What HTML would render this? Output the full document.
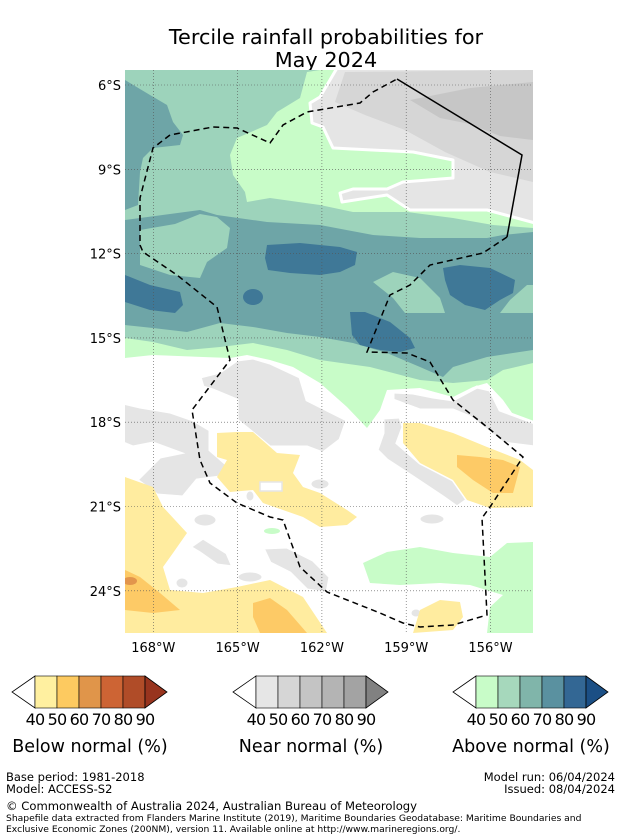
<!DOCTYPE html>
<html><head><meta charset="utf-8"><style>
body{margin:0;background:#fff;width:621px;height:839px;overflow:hidden;font-family:"DejaVu Sans","Liberation Sans",sans-serif;}
svg{position:absolute;left:0;top:0}
</style></head><body>
<svg id="chart" width="621" height="839" viewBox="0 0 621 839">
<text x="326" y="44" font-size="20.8" text-anchor="middle">Tercile rainfall probabilities for</text>
<text x="326" y="67" font-size="20.8" text-anchor="middle">May 2024</text>
<defs><clipPath id="mc"><rect x="125" y="70" width="408" height="563"/></clipPath></defs>
<g clip-path="url(#mc)">
<rect x="125" y="70" width="408" height="563" fill="#fff"/>
<polygon fill="#c8fcc8" points="125,70 533,70 533,425 517,420 503,400 487,383 473,387 453,397 420,388 387,390 380,410 367,428 347,407 320,383 293,367 270,360 247,355 230,358 203,357 153,355 125,358"/>
<polygon fill="#9dd3bb" points="125,70 320,70 307,72 300,98 277,112 267,125 237,138 230,155 233,175 245,192 247,202 270,198 320,205 353,212 407,212 453,218 493,225 533,228 533,363 503,370 487,380 453,383 420,380 370,367 320,360 287,350 253,343 220,347 187,350 153,342 125,338"/>
<polygon fill="#6ea5a7" points="125,80 150,95 167,105 173,122 183,135 180,145 153,148 143,158 140,172 138,205 125,210"/>
<polygon fill="#6ea5a7" points="125,220 200,210 217,215 267,222 320,225 373,235 420,238 487,238 503,235 533,232 533,350 487,357 453,367 443,377 420,367 387,353 353,343 320,337 287,333 253,327 220,323 187,332 153,328 125,325"/>
<polygon fill="#9dd3bb" points="140,230 175,224 200,214 217,217 230,228 227,248 207,262 200,278 170,275 140,265"/>
<polygon fill="#9dd3bb" points="373,282 393,272 420,278 440,298 445,313 405,313 393,298"/>
<polygon fill="#9dd3bb" points="500,313 510,300 527,285 533,285 533,313"/>
<polygon fill="#3f7897" points="267,245 300,243 340,247 357,252 355,265 340,272 320,275 290,273 268,270 265,258"/>
<ellipse fill="#3f7897" cx="253" cy="297" rx="10" ry="8"/>
<polygon fill="#3f7897" points="125,275 150,285 180,292 183,305 175,313 150,310 125,302"/>
<polygon fill="#3f7897" points="443,268 460,265 490,268 515,280 513,293 500,300 485,310 465,305 450,295 445,280"/>
<polygon fill="#3f7897" points="350,312 365,312 390,322 410,338 415,348 400,352 380,350 360,345 352,335"/>
<g stroke="#fff" stroke-width="3" stroke-linejoin="round">
<polygon fill="#e5e5e5" points="337,68 320,97 310,103 312,123 323,127 333,148 413,152 453,160 453,178 403,182 387,189 353,189 340,193 342,202 387,195 410,210 487,210 535,223 535,68"/>
</g>
<polygon fill="#d6d6d6" points="345,72 533,70 533,182 490,172 445,152 405,130 365,115 335,102"/>
<polygon fill="#c6c6c6" points="410,100 470,88 533,82 533,140 500,136 470,124 440,118"/>
<polygon fill="#c8fcc8" points="363,563 387,552 420,547 453,553 490,557 507,543 533,542 533,633 487,633 490,607 503,595 470,585 440,583 400,585 370,583"/>
<ellipse fill="#c8fcc8" cx="272" cy="531" rx="8" ry="3"/>
<g fill="#e5e5e5" stroke="#fff" stroke-width="3">
<polygon points="200,377 220,372 237,360 253,358 270,363 300,377 307,400 333,413 347,420 340,440 323,453 307,447 270,447 253,433 237,420 237,400 213,390 203,387"/>
<polygon points="123,403 140,407 170,412 193,420 210,430 210,450 233,470 220,477 197,480 183,497 157,495 137,480 160,457 180,453 153,443 133,447 123,443"/>
<polygon points="393,392 413,393 433,397 453,400 477,387 490,390 500,410 535,423 535,447 503,443 470,417 453,410 420,410 393,400"/>
<polygon points="383,418 400,417 403,427 397,443 420,463 453,480 467,500 457,507 443,497 413,477 387,460 377,450 383,433"/>
<polygon points="263,548 287,547 313,560 330,577 327,593 307,590 290,573 270,563"/>
<polygon points="190,547 203,538 227,553 233,567 217,565 200,553"/>
<ellipse cx="205" cy="520" rx="12" ry="7"/>
<ellipse cx="250" cy="577" rx="13" ry="6"/>
<ellipse cx="182" cy="583" rx="7" ry="6"/>
<ellipse cx="320" cy="484" rx="10" ry="6"/>
<ellipse cx="432" cy="519" rx="13" ry="6"/>
<ellipse cx="416" cy="613" rx="6" ry="5"/>
<ellipse cx="250" cy="496" rx="5" ry="6"/>
<rect x="123" y="627" width="14" height="8"/>
</g>
<polygon fill="#ffec9f" points="217,433 237,432 253,432 277,453 300,455 293,473 303,487 320,493 347,510 357,517 347,525 320,527 303,517 263,503 253,490 230,492 217,477 227,460 217,457"/>
<rect x="260" y="482" width="22" height="9" fill="#fff" stroke="#e5e5e5" stroke-width="1.5"/>
<polygon fill="#ffec9f" points="403,423 420,423 453,433 487,447 520,460 533,470 533,507 490,508 467,500 453,480 420,463 403,443"/>
<polygon fill="#fdca66" points="457,455 480,457 503,460 520,467 513,493 493,493 473,480 457,467"/>
<polygon fill="#ffec9f" points="125,477 153,487 163,507 187,533 173,553 163,567 170,590 203,593 237,587 270,580 303,597 327,633 125,633"/>
<polygon fill="#fdca66" points="125,570 140,577 160,593 180,610 153,613 125,610"/>
<ellipse fill="#e2954c" cx="130" cy="581" rx="7" ry="4"/>
<polygon fill="#fdca66" points="253,603 270,598 287,610 307,633 260,633 253,617"/>
<polygon fill="#ffec9f" points="420,610 440,600 460,602 463,617 453,630 413,633"/>
<g id="grid"></g>
<polyline fill="none" stroke="#000" stroke-width="1.5" points="397,79 522,155 507,237"/>
<polyline fill="none" stroke="#000" stroke-width="1.5" stroke-dasharray="6,4" points="507,237 483,253 430,265 410,285 390,295 367,352 407,353 430,362 453,400 487,427 523,457 490,507 482,518 487,615 453,625 420,627 403,623 380,613 327,592 300,567 283,520 270,517 237,503 210,483 200,460 192,410 230,360 217,307 177,275 143,252 140,245 140,198 153,148 170,135 213,127 237,128 270,143 283,125 307,112 360,103 373,92 397,79"/>
</g>
<g id="axes"></g>
<g id="cbars"></g>
<text x="6" y="781" font-size="11.5">Base period: 1981-2018</text>
<text x="6" y="793" font-size="11.5">Model: ACCESS-S2</text>
<text x="615" y="781" font-size="11.5" text-anchor="end">Model run: 06/04/2024</text>
<text x="615" y="793" font-size="11.5" text-anchor="end">Issued: 08/04/2024</text>
<text x="6" y="810" font-size="11.6">© Commonwealth of Australia 2024, Australian Bureau of Meteorology</text>
<text x="6" y="821" font-size="9.2">Shapefile data extracted from Flanders Marine Institute (2019), Maritime Boundaries Geodatabase: Maritime Boundaries and</text>
<text x="6" y="832" font-size="9.2">Exclusive Economic Zones (200NM), version 11. Available online at http://www.marineregions.org/.</text>
</svg>
<script>
const lonTicks=[168,165,162,159,156];
const latTicks=[6,9,12,15,18,21,24];
const cbLevels=[40,50,60,70,80,90];
const belowColors=["#fff0a0","#fdca60","#e0954a","#cd6434","#b04c28","#98341e"];
const nearColors=["#e6e6e6","#d6d6d6","#c4c4c4","#b4b4b4","#a3a3a3","#818181"];
const aboveColors=["#c8fcc8","#a6d8bc","#80b5aa","#5a91a0","#336794","#1b4f85"];
const NS="http://www.w3.org/2000/svg";
function xLon(l){return 153.3+(168-l)*28.1;}
function yLat(l){return 85+(l-6)*28.1;}
function mk(t,a,p){const e=document.createElementNS(NS,t);for(const k in a)e.setAttribute(k,a[k]);p.appendChild(e);return e;}
const grid=document.getElementById('grid'),axes=document.getElementById('axes');
lonTicks.forEach(l=>{const x=xLon(l);
 const g=mk('line',{x1:x,x2:x,y1:70,y2:633,stroke:'#555','stroke-width':0.6,'stroke-dasharray':'1,2'},grid);
 
 
 const t=mk('text',{x:x,y:652,'font-size':13,'text-anchor':'middle'},axes);t.textContent=l+'°W';
 
 });
latTicks.forEach(l=>{const y=yLat(l);
 const g=mk('line',{x1:125,x2:533,y1:y,y2:y,stroke:'#555','stroke-width':0.6,'stroke-dasharray':'1,2'},grid);
 
 
 const t=mk('text',{x:121,y:y+5,'font-size':13,'text-anchor':'end'},axes);t.textContent=l+'°S';
 
 });
const cb=document.getElementById('cbars');
[[35,belowColors,'Below normal (%)','below'],[256,nearColors,'Near normal (%)','near'],[476,aboveColors,'Above normal (%)','above']].forEach(([x0,cols,title,key])=>{
 const w=22,y0=676,h=32;
 const lt=mk('polygon',{points:`${x0},${y0} ${x0-23},${y0+h/2} ${x0},${y0+h}`,fill:'#fff',stroke:'#000','stroke-width':0.8},cb);
 
 
 for(let i=0;i<cbLevels.length-1;i++){
  const r=mk('rect',{x:x0+i*w,y:y0,width:w,height:h,fill:cols[i],stroke:'#000','stroke-width':0.6},cb);
  
  }
 const xe=x0+(cbLevels.length-1)*w;
 const rt=mk('polygon',{points:`${xe},${y0} ${xe+22},${y0+h/2} ${xe},${y0+h}`,fill:cols[5],stroke:'#000','stroke-width':0.8},cb);
 
 
 cbLevels.forEach((v,i)=>{const t=mk('text',{x:x0+i*w,y:y0+h+17,'font-size':16,'text-anchor':'middle','letter-spacing':'-0.8'},cb);t.textContent=v;
  
  });
 const tt=mk('text',{x:x0+55,y:752,'font-size':17.5,'text-anchor':'middle'},cb);tt.textContent=title;
 
 
});
</script>
</body></html>
